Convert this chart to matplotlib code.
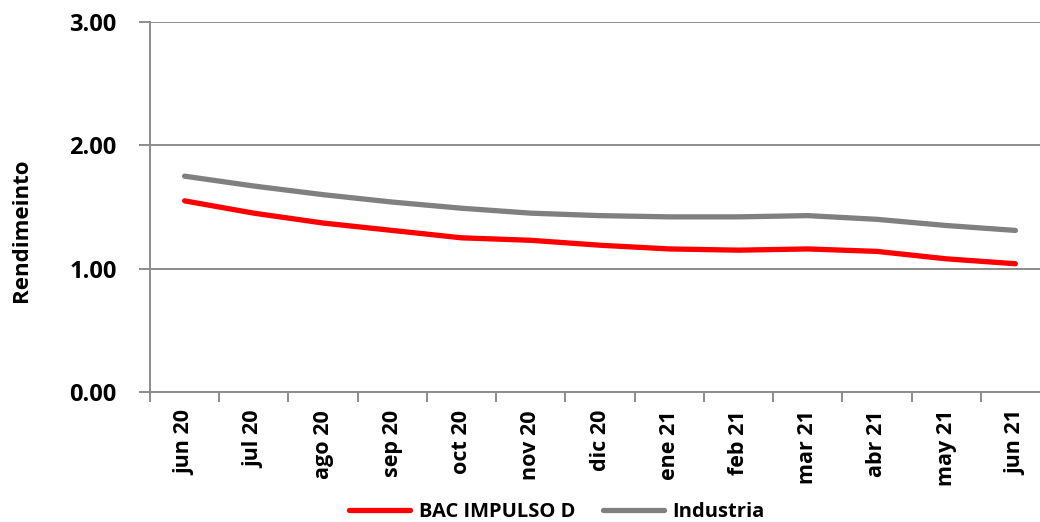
import matplotlib.pyplot as plt
from matplotlib.ticker import FormatStrFormatter, FixedLocator

# data
months = ['jun 20', 'jul 20', 'ago 20', 'sep 20', 'oct 20', 'nov 20', 'dic 20',
          'ene 21', 'feb 21', 'mar 21', 'abr 21', 'may 21', 'jun 21']
bac_impulso = [1.55, 1.45, 1.37, 1.31, 1.25, 1.23, 1.19, 1.16, 1.15, 1.16, 1.14, 1.08, 1.04]
industria = [1.75, 1.67, 1.60, 1.54, 1.49, 1.45, 1.43, 1.42, 1.42, 1.43, 1.40, 1.35, 1.31]

plt.rcParams['font.family'] = ['Open Sans', 'DejaVu Sans']
plt.rcParams['font.weight'] = 'bold'

axis_grey = '#8c8c8c'

fig = plt.figure(figsize=(10.4, 5.22), dpi=100)
ax = fig.add_axes([150 / 1040, 1 - 392 / 522, 900 / 1040, 370 / 522])

x = range(len(months))
ax.plot(x, bac_impulso, color='#ff0000', lw=3.8, solid_capstyle='round',
        label='BAC IMPULSO D', zorder=3)
ax.plot(x, industria, color='#808080', lw=3.8, solid_capstyle='round',
        label='Industria', zorder=3)

ax.set_xlim(-0.5, len(months) - 0.5)
ax.set_ylim(0, 3)
ax.set_yticks([0, 1, 2, 3])
ax.yaxis.set_major_formatter(FormatStrFormatter('%.2f'))
ax.grid(axis='y', color=axis_grey, lw=1.4)
ax.set_axisbelow(True)

# labels at category centres, tick marks at category boundaries
ax.set_xticks(list(x))
ax.set_xticklabels(months, rotation=90, fontsize=15.5, fontweight='bold')
ax.xaxis.set_minor_locator(FixedLocator([i - 0.5 for i in range(len(months) + 1)]))
ax.tick_params(axis='x', which='major', length=0, pad=13)
ax.tick_params(axis='x', which='minor', length=7, width=1.4, color=axis_grey)
ax.tick_params(axis='y', length=8, width=1.4, color=axis_grey, labelsize=17, pad=16)
for lbl in ax.get_yticklabels():
    lbl.set_fontweight('bold')

for side in ['top', 'right']:
    ax.spines[side].set_visible(False)
for side in ['left', 'bottom']:
    ax.spines[side].set_color(axis_grey)
    ax.spines[side].set_linewidth(1.4)

fig.text(22 / 1040, 1 - 230 / 522, 'Rendimeinto', rotation=90, ha='center',
         va='center', fontsize=16, fontweight='bold')

fig.legend(loc='center', bbox_to_anchor=(557 / 1040, 1 - 512 / 522), ncol=2,
           frameon=False, handlelength=3.0, handletextpad=0.45,
           columnspacing=1.4, prop={'weight': 'bold', 'size': 14.5})

fig.savefig('out.png', dpi=100)
